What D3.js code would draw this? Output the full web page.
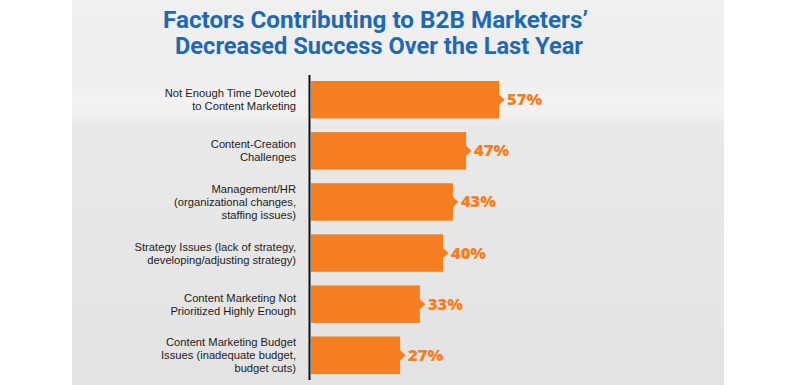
<!DOCTYPE html>
<html lang="en">
<head>
  <meta charset="utf-8">
  <title>Factors Contributing to B2B Marketers' Decreased Success</title>
  <script src="https://d3js.org/d3.v7.min.js"></script>
  <style>
    html, body { margin: 0; padding: 0; background: #fff; }
    #chart { width: 800px; height: 385px; }
  </style>
</head>
<body>
  <div id="chart"></div>
  <script>
    // chart data
    const categories = [
      ["Not Enough Time Devoted", "to Content Marketing"],
      ["Content-Creation", "Challenges"],
      ["Management/HR", "(organizational changes,", "staffing issues)"],
      ["Strategy Issues (lack of strategy,", "developing/adjusting strategy)"],
      ["Content Marketing Not", "Prioritized Highly Enough"],
      ["Content Marketing Budget", "Issues (inadequate budget,", "budget cuts)"]
    ];
    const values = [57, 47, 43, 40, 33, 27];
    const titleLines = ["Factors Contributing to B2B Marketers\u2019", "Decreased Success Over the Last Year"];
    const titleWidths = [425, 408];

    const width = 800, height = 385;
    const orange = "#f47e20", blue = "#1f69b1", ink = "#1e1b1c";

    const svg = d3.select("#chart").append("svg")
      .attr("width", width)
      .attr("height", height);

    // grey panel background
    const grad = svg.append("defs").append("linearGradient")
      .attr("id", "bg")
      .attr("x1", 0).attr("y1", 0).attr("x2", 0).attr("y2", 1);
    [[0, "#f0f0f0"], [0.2, "#eeeeee"], [0.25, "#f3f2f0"], [0.29, "#f2f1ef"], [0.33, "#e9e9e9"], [1, "#e3e3e3"]]
      .forEach(s => grad.append("stop").attr("offset", s[0]).attr("stop-color", s[1]));

    svg.append("rect")
      .attr("x", 72).attr("y", 0)
      .attr("width", 652).attr("height", height)
      .attr("fill", "url(#bg)");

    // title
    svg.append("text")
      .attr("text-anchor", "middle")
      .style("font-family", "Roboto, 'Open Sans', sans-serif")
      .style("font-weight", "bold")
      .style("font-size", "24px")
      .attr("fill", blue)
      .selectAll("tspan")
      .data(titleLines)
      .join("tspan")
        .attr("x", (d, i) => i ? 379 : 375.5)
        .attr("y", (d, i) => 28 + i * 25.5)
        .attr("textLength", (d, i) => titleWidths[i])
        .attr("lengthAdjust", "spacingAndGlyphs")
        .text(d => d);

    // scales
    const x = d3.scaleLinear()
      .domain([0, 100])
      .range([311, 641]);

    const y = d3.scaleBand()
      .domain(d3.range(values.length))
      .range([81, 374])
      .paddingInner(0.267)
      .paddingOuter(0);

    // bars with small arrow tip
    const rows = svg.selectAll("g.row")
      .data(values)
      .join("g")
      .attr("class", "row");

    rows.append("rect")
      .attr("x", x(0))
      .attr("y", (d, i) => y(i))
      .attr("width", d => x(d) - x(0))
      .attr("height", y.bandwidth())
      .attr("fill", orange);

    rows.append("path")
      .attr("d", (d, i) => {
        const xe = x(d) - 0.5, yc = y(i) + y.bandwidth() / 2;
        return `M${xe},${yc - 5.5}L${xe + 6},${yc}L${xe},${yc + 5.5}Z`;
      })
      .attr("fill", orange);

    // value labels
    rows.append("text")
      .attr("x", d => x(d) + 8)
      .attr("y", (d, i) => y(i) + y.bandwidth() / 2 + 5.5)
      .style("font-family", "'Open Sans', sans-serif")
      .style("font-weight", "800")
      .style("font-size", "16.5px")
      .attr("fill", orange)
      .text(d => d + "%");

    // category labels
    const lineH = 12.9;
    rows.append("text")
      .attr("text-anchor", "end")
      .style("font-family", "'Liberation Sans', Arial, sans-serif")
      .style("font-size", "11.2px")
      .attr("fill", ink)
      .each(function(d, i) {
        const lines = categories[i];
        const yc = y(i) + y.bandwidth() / 2;
        d3.select(this).selectAll("tspan")
          .data(lines)
          .join("tspan")
            .attr("x", 296)
            .attr("y", (l, j) => yc + (j - (lines.length - 1) / 2) * lineH + 4)
            .text(l => l);
      });

    // axis line
    svg.append("line")
      .attr("x1", 309.5).attr("x2", 309.5)
      .attr("y1", 75).attr("y2", 380)
      .attr("stroke", "#111")
      .attr("stroke-width", 2);
  </script>
</body>
</html>
